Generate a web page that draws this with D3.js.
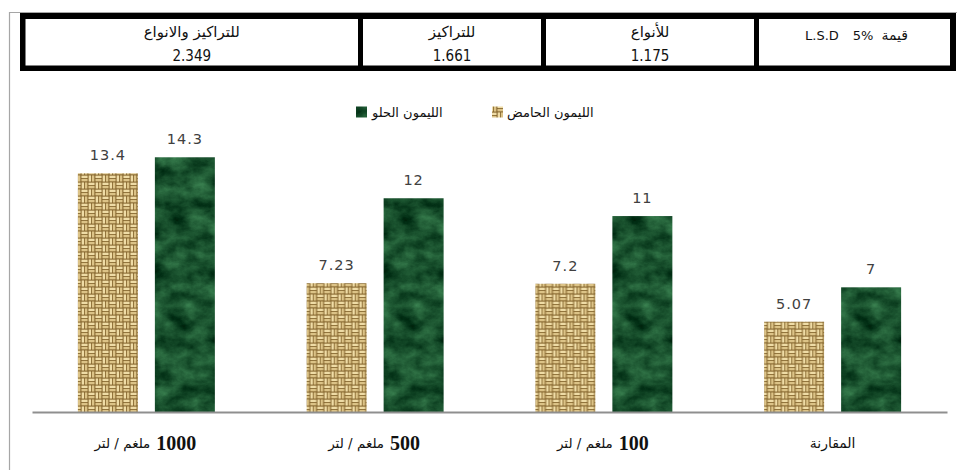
<!DOCTYPE html>
<html>
<head>
<meta charset="utf-8">
<script src="https://cdn.jsdelivr.net/npm/d3@7"></script>
<style>
  html, body { margin: 0; padding: 0; background: #ffffff; }
  svg { display: block; }
</style>
</head>
<body>
<svg id="chart" width="957" height="470"></svg>
<script>
// ---- data ----
const categories = ["1000 ملغم / لتر", "500 ملغم / لتر", "100 ملغم / لتر", "المقارنة"];
const seriesNames = ["الليمون الحامض", "الليمون الحلو"];
const sourLemon = [13.4, 7.23, 7.2, 5.07];
const sweetLemon = [14.3, 12, 11, 7];

// L.S.D table: column titles and values (left to right)
const lsdTitles = ["للتراكيز والانواع", "للتراكيز", "للأنواع"];
const lsdValues = ["2.349", "1.661", "1.175"];
const lsdCaption = ["L.S.D", "5%", "قيمة"];

const seriesValues = [sourLemon, sweetLemon];

const W = 957, H = 470;
const svg = d3.select("#chart");
const defs = svg.append("defs");

// woven burlap texture for the first series
const T = 14, Q = T / 2;
const weave = defs.append("pattern")
  .attr("id", "weave").attr("patternUnits", "userSpaceOnUse")
  .attr("width", T).attr("height", T);
weave.append("rect").attr("width", T).attr("height", T).attr("fill", "#7f5f27");
const strandCols = ["#efdca6", "#dcc387"];
[[0, 0, "h"], [Q, 0, "v"], [0, Q, "v"], [Q, Q, "h"]].forEach(([qx, qy, dir]) => {
  [0.6, 3.9].forEach((o, i) => {
    const r = dir === "h"
      ? { x: qx + 0.4, y: qy + o, w: Q - 0.8, h: 2.5 }
      : { x: qx + o, y: qy + 0.4, w: 2.5, h: Q - 0.8 };
    weave.append("rect").attr("x", r.x).attr("y", r.y)
      .attr("width", r.w).attr("height", r.h)
      .attr("fill", strandCols[i]);
  });
});

// marbled texture for the second series
const marble = defs.append("filter").attr("id", "marble")
  .attr("x", 0).attr("y", 0).attr("width", 1).attr("height", 1)
  .attr("color-interpolation-filters", "sRGB");
marble.append("feTurbulence").attr("type", "fractalNoise")
  .attr("baseFrequency", "0.045 0.06").attr("numOctaves", 5).attr("seed", 11).attr("result", "n");
marble.append("feColorMatrix").attr("in", "n").attr("type", "matrix")
  .attr("values", "0.34 0 0 0 -0.07  0.5 0 0 0 0.07  0.36 0 0 0 0.0  0 0 0 0 1")
  .attr("result", "c");
marble.append("feComposite").attr("in", "c").attr("in2", "SourceGraphic").attr("operator", "in");

const fills = ["url(#weave)", "#1f5a33"];
const filters = [null, "url(#marble)"];

// ---- outer frame ----
svg.append("line").attr("x1", 9.5).attr("x2", 9.5).attr("y1", 12).attr("y2", H)
  .attr("stroke", "#a6a6a6").attr("stroke-width", 1.2);
svg.append("line").attr("x1", 9).attr("x2", W).attr("y1", 12.5).attr("y2", 12.5)
  .attr("stroke", "#a6a6a6").attr("stroke-width", 1.2);

// ---- L.S.D table ----
const table = svg.append("g");
table.append("rect").attr("x", 20).attr("y", 13).attr("width", 936).attr("height", 58).attr("fill", "#000");
const cells = [[25.5, 358], [363, 541], [546, 754], [759, 950]];
cells.forEach(([x0, x1]) => {
  table.append("rect").attr("x", x0).attr("y", 19).attr("width", x1 - x0).attr("height", 46.5).attr("fill", "#fff");
});
const arabicFont = "'DejaVu Sans', sans-serif";
lsdTitles.forEach((t, i) => {
  const cx = (cells[i][0] + cells[i][1]) / 2;
  table.append("text").attr("x", cx).attr("y", 37).attr("text-anchor", "middle")
    .attr("font-family", arabicFont).attr("font-size", 15).attr("fill", "#111").text(t);
  table.append("text").attr("x", cx).attr("y", 61).attr("text-anchor", "middle")
    .attr("font-family", "'Liberation Sans Narrow', 'DejaVu Sans Condensed', sans-serif")
    .attr("font-size", 15).attr("fill", "#111").text(lsdValues[i]);
});
// caption cell, laid out right to left
{
  let xr = 908;
  const gaps = [0, 8, 14];
  for (let k = lsdCaption.length - 1; k >= 0; k--) {
    xr -= gaps[lsdCaption.length - 1 - k];
    const t = table.append("text").attr("x", xr).attr("y", 40).attr("text-anchor", "end")
      .attr("font-family", arabicFont)
      .attr("font-size", k === 2 ? 14 : 13).attr("fill", "#111").text(lsdCaption[k]);
    xr -= t.node().getComputedTextLength();
  }
}

// ---- legend ----
const legend = svg.append("g");
const legendItems = [
  { s: 1, sx: 356, tx: 372 },
  { s: 0, sx: 492, tx: 507 }
];
legendItems.forEach(it => {
  legend.append("rect").attr("x", it.sx).attr("y", 106.5).attr("width", 11).attr("height", 11)
    .attr("fill", fills[it.s]).attr("filter", filters[it.s]);
  legend.append("text").attr("x", it.tx).attr("y", 116.5).attr("text-anchor", "start")
    .attr("font-family", arabicFont).attr("font-size", 13).attr("fill", "#111")
    .text(seriesNames[it.s]);
});

// ---- scales ----
const x0 = d3.scaleBand().domain(categories).range([32, 947]).padding(0);
const x1 = d3.scaleBand().domain(d3.range(seriesNames.length))
  .range([0, x0.bandwidth()]).paddingInner(0.2208).paddingOuter(0.596);
const y = d3.scaleLinear().domain([0, 16]).range([412, 127]);

// ---- bars ----
const groups = svg.append("g").selectAll("g").data(categories).join("g")
  .attr("transform", d => `translate(${x0(d)},0)`);
groups.each(function (cat, ci) {
  const g = d3.select(this);
  seriesValues.forEach((vals, si) => {
    const v = vals[ci];
    g.append("rect")
      .attr("x", x1(si)).attr("width", x1.bandwidth())
      .attr("y", y(v)).attr("height", y(0) - y(v))
      .attr("fill", fills[si]).attr("filter", filters[si]);
    g.append("text")
      .attr("x", x1(si) + x1.bandwidth() / 2).attr("y", y(v) - 13)
      .attr("text-anchor", "middle")
      .attr("font-family", "'DejaVu Sans', Verdana, sans-serif")
      .attr("font-size", 14.5).attr("letter-spacing", 1).attr("fill", "#404040")
      .text(v);
  });
});

// ---- x axis ----
const xAxis = svg.append("g").attr("transform", `translate(0,${y(0)})`)
  .call(d3.axisBottom(x0).tickSize(0).tickSizeOuter(0).tickFormat(""));
xAxis.select(".domain").attr("stroke", "#8f8f8f").attr("stroke-width", 2);
xAxis.selectAll(".tick").each(function (cat) {
  const tk = d3.select(this);
  tk.selectAll("text").remove();
  const m = cat.match(/^(\d+)\s+(.*)$/);
  if (m) {
    const num = tk.append("text").attr("y", 38).attr("text-anchor", "start")
      .attr("font-family", "'Liberation Serif', 'Times New Roman', serif")
      .attr("font-weight", "bold").attr("font-size", 20).attr("fill", "#111").text(m[1]);
    const unit = tk.append("text").attr("y", 36).attr("text-anchor", "end")
      .attr("font-family", arabicFont).attr("font-size", 13.5).attr("fill", "#111").text(m[2]);
    const wn = num.node().getComputedTextLength();
    const wu = unit.node().getComputedTextLength();
    const gap = 6;
    const left = -(wn + wu + gap) / 2 - 1;
    unit.attr("x", left + wu);
    num.attr("x", left + wu + gap);
  } else {
    tk.append("text").attr("y", 36).attr("text-anchor", "middle")
      .attr("font-family", arabicFont).attr("font-size", 14).attr("fill", "#111").text(cat);
  }
});
</script>
</body>
</html>
